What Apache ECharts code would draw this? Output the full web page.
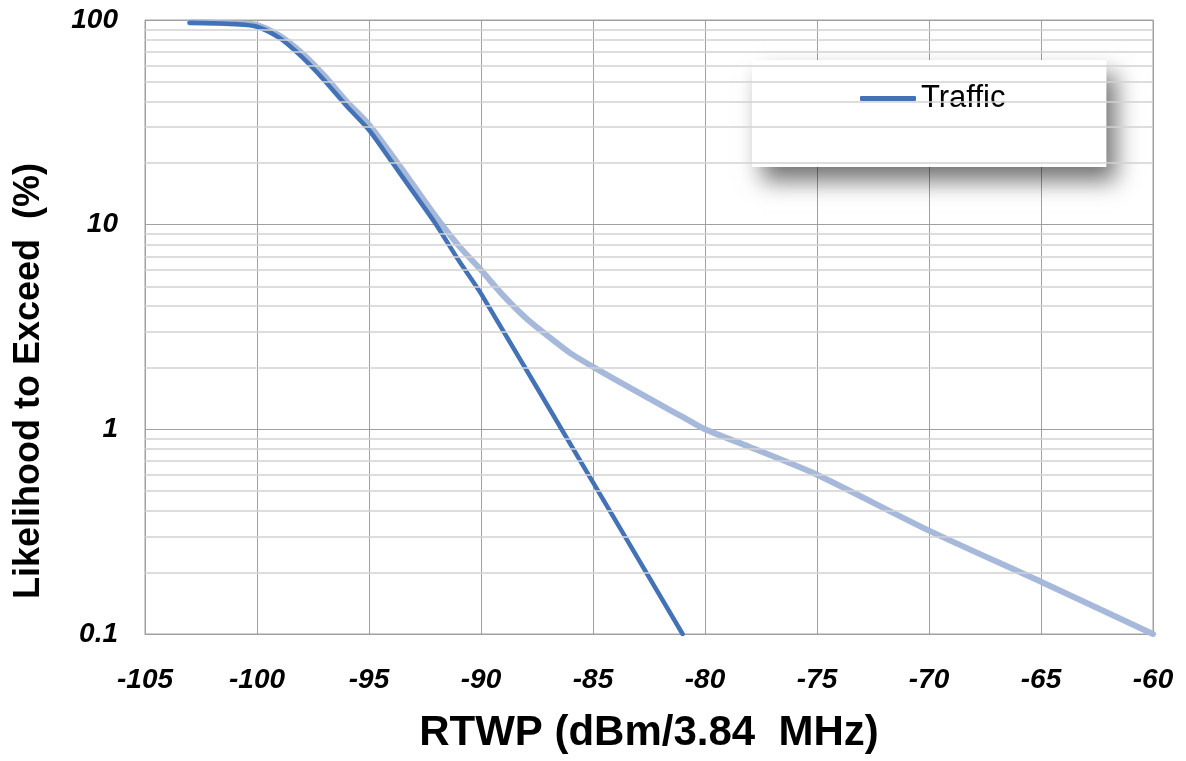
<!DOCTYPE html>
<html>
<head>
<meta charset="utf-8">
<script src="https://cdn.jsdelivr.net/npm/echarts@6/dist/echarts.min.js"></script>
<style>
html,body{margin:0;padding:0;background:#fff;}
#chart{width:1186px;height:761px;}
</style>
</head>
<body>
<div id="chart"></div>
<script>
// Traffic series (dark blue)
const trafficX = [-103, -102, -101, -100, -99, -98, -97, -96, -95, -94, -93, -92, -91, -90, -85, -81];
const trafficY = [97, 96.5, 95.5, 92.7, 81.7, 66, 50.8, 38, 29, 20.4, 14.3, 10, 6.7, 4.6, 0.55, 0.1];
// Second series (light blue, not in legend)
const lightX = [-103, -102, -101, -100, -99, -98, -97, -96, -95, -94, -93, -92, -91, -90, -89, -88, -87, -86, -85, -84, -83, -82, -81, -80, -78, -75, -70, -65, -60];
const lightY = [97.3, 97, 96.2, 94.5, 84, 69, 53.5, 40, 30.8, 22, 15.5, 10.9, 7.9, 6.0, 4.5, 3.5, 2.85, 2.35, 2.02, 1.75, 1.52, 1.32, 1.15, 1.0, 0.82, 0.6, 0.32, 0.18, 0.1];
// Minor gridline values (log axis)
const minorGrid = [0.2,0.3,0.4,0.5,0.6,0.7,0.8,0.9,2,3,4,5,6,7,8,9,20,30,40,50,60,70,80,90];
const seriesNames = ['Traffic', 'Reference'];

const FONT = '"Liberation Sans", Arial, sans-serif';
const zip = (xs, ys) => xs.map((x, i) => [x, ys[i]]);

const chart = echarts.init(document.getElementById('chart'), null, {renderer: 'canvas'});
chart.setOption({
  animation: false,
  backgroundColor: '#ffffff',
  grid: {left: 145, right: 33, top: 20, bottom: 127, show: true, borderColor: '#a0a0a0', borderWidth: 1, containLabel: false},
  legend: {
    data: [{name: 'Traffic', icon: 'roundRect'}],
    left: 752, top: 60,
    orient: 'horizontal',
    padding: [23, 101, 53, 108],
    backgroundColor: '#ffffff',
    shadowBlur: 22,
    shadowColor: 'rgba(0,0,0,0.55)',
    shadowOffsetX: 10,
    shadowOffsetY: 14,
    itemWidth: 56,
    itemHeight: 5,
    itemGap: 5,
    itemStyle: {color: '#4373b6', borderWidth: 0},
    lineStyle: {width: 0, opacity: 0},
    textStyle: {fontFamily: FONT, fontSize: 31, color: '#000', padding: [0,0,0,0]}
  },
  xAxis: {
    type: 'value', min: -105, max: -60, interval: 5,
    name: 'RTWP (dBm/3.84  MHz)', nameLocation: 'middle', nameGap: 78,
    nameTextStyle: {fontFamily: FONT, fontSize: 42, fontWeight: 'bold', color: '#000'},
    axisLine: {show: true, lineStyle: {color: '#a0a0a0', width: 1}},
    axisTick: {show: false},
    axisLabel: {margin: 32, fontFamily: FONT, fontSize: 28, fontStyle: 'italic', fontWeight: 'bold', color: '#000', showMinLabel: true, showMaxLabel: true},
    splitLine: {show: true, lineStyle: {color: '#a0a0a0', width: 1}}
  },
  yAxis: {
    type: 'log', logBase: 10, min: 0.1, max: 100,
    axisLine: {show: true, lineStyle: {color: '#a0a0a0', width: 1}},
    axisTick: {show: false},
    axisLabel: {margin: 27, fontFamily: FONT, fontSize: 28, fontStyle: 'italic', fontWeight: 'bold', color: '#000',
      formatter: v => String(+v.toPrecision(3))},
    splitLine: {show: true, lineStyle: {color: '#a0a0a0', width: 1}},
    minorTick: {show: false},
    minorSplitLine: {show: false}
  },
  graphic: [{
    type: 'text', x: 29, y: 381, rotation: Math.PI / 2,
    style: {text: 'Likelihood to Exceed  (%)', font: 'bold 36px ' + FONT, fill: '#000', align: 'center', verticalAlign: 'middle'}
  }],
  series: [
    {
      name: 'minor', type: 'line', data: [], z: 1, silent: true,
      markLine: {
        silent: true, symbol: ['none', 'none'], label: {show: false},
        lineStyle: {color: '#d2d2d2', type: 'solid', width: 1.5},
        data: minorGrid.map(v => ({yAxis: v}))
      }
    },
    {
      name: seriesNames[1], type: 'line', data: zip(lightX, lightY), smooth: 0.25,
      showSymbol: false, symbol: 'none', z: 3,
      lineStyle: {color: '#a6b9da', width: 6, cap: 'round', join: 'round'},
      itemStyle: {color: '#a6b9da'}
    },
    {
      name: seriesNames[0], type: 'line', data: zip(trafficX, trafficY), smooth: 0.25,
      showSymbol: false, symbol: 'none', z: 4,
      lineStyle: {color: '#4373b6', width: 4.5, cap: 'round', join: 'round'},
      itemStyle: {color: '#4373b6'}
    }
  ]
});
</script>
</body>
</html>
